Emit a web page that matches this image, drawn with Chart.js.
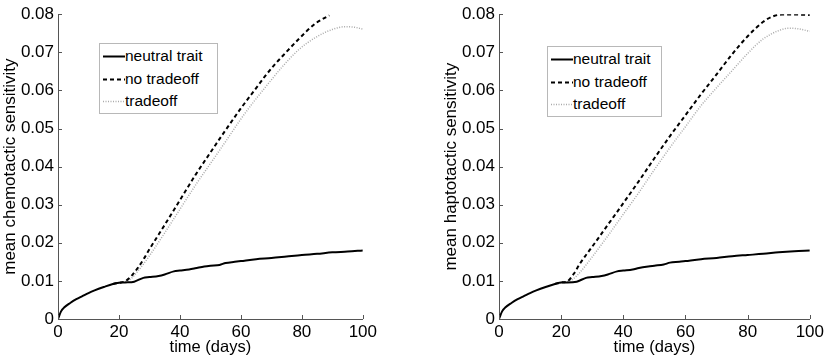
<!DOCTYPE html>
<html>
<head>
<meta charset="utf-8">
<script src="https://cdn.jsdelivr.net/npm/chart.js@4.4.0/dist/chart.umd.min.js"></script>
<style>
  body { margin: 0; background: #fff; width: 827px; height: 361px; position: relative; overflow: hidden; font-family: "Liberation Sans", Arial, sans-serif; }
  .panel { position: absolute; top: 0; height: 361px; }
  .legend { position: absolute; border: 1px solid #b8b8b8; background: #fff; font-size: 15.5px; color: #000; }
  .legend div { position: relative; height: 22.5px; line-height: 22.5px; padding-left: 25px; }
  .legend svg { position: absolute; left: 3px; top: 10px; }
</style>
</head>
<body>
<div class="panel" style="left:0;width:380px"><canvas id="chemoChart"></canvas></div>
<div class="panel" style="left:441px;width:386px"><canvas id="haptoChart"></canvas></div>

<div class="legend" style="left:99px;top:43px;width:117px;height:68px;padding-top:1px">
  <div><svg width="22" height="3"><line x1="0" y1="1.5" x2="22" y2="1.5" stroke="#000" stroke-width="2"/></svg>neutral trait</div>
  <div><svg width="22" height="3"><line x1="0" y1="1.5" x2="22" y2="1.5" stroke="#000" stroke-width="2" stroke-dasharray="4,3"/></svg>no tradeoff</div>
  <div><svg width="22" height="3"><line x1="0" y1="1.5" x2="22" y2="1.5" stroke="#aaa" stroke-width="1.5" stroke-dasharray="1,1.5"/></svg>tradeoff</div>
</div>
<div class="legend" style="left:547px;top:46px;width:113px;height:68px;padding-top:1px">
  <div><svg width="22" height="3"><line x1="0" y1="1.5" x2="22" y2="1.5" stroke="#000" stroke-width="2"/></svg>neutral trait</div>
  <div><svg width="22" height="3"><line x1="0" y1="1.5" x2="22" y2="1.5" stroke="#000" stroke-width="2" stroke-dasharray="4,3"/></svg>no tradeoff</div>
  <div><svg width="22" height="3"><line x1="0" y1="1.5" x2="22" y2="1.5" stroke="#aaa" stroke-width="1.5" stroke-dasharray="1,1.5"/></svg>tradeoff</div>
</div>

<script>
// data (time in days, mean sensitivity)
const neutralDays = [0, 1, 2, 4, 6, 8, 10, 12, 15, 18, 20, 22, 25, 28, 30, 33, 35, 38, 40, 43, 45, 48, 50, 53, 55, 58, 60, 65, 70, 75, 80, 85, 90, 95, 100];
const chemoNeutral = [0, 0.002, 0.003, 0.0042, 0.0052, 0.006, 0.0068, 0.0075, 0.0084, 0.0092, 0.0095, 0.0096, 0.0098, 0.0108, 0.011, 0.0113, 0.0117, 0.0125, 0.0127, 0.013, 0.0133, 0.0138, 0.014, 0.0142, 0.0147, 0.015, 0.0152, 0.0157, 0.016, 0.0164, 0.0168, 0.0171, 0.0175, 0.0177, 0.018];
const haptoNeutral = [0, 0.002, 0.003, 0.0042, 0.0052, 0.006, 0.0068, 0.0075, 0.0084, 0.0092, 0.0096, 0.0096, 0.0098, 0.0108, 0.011, 0.0113, 0.0117, 0.0125, 0.0127, 0.013, 0.0134, 0.0138, 0.014, 0.0143, 0.0148, 0.015, 0.0152, 0.0157, 0.016, 0.0165, 0.0168, 0.0171, 0.0175, 0.0178, 0.018];

const chemoNoTradeoffDays = [18, 20, 22, 24, 26, 28, 30, 35, 40, 45, 50, 55, 60, 65, 68, 71, 74, 79, 84.5, 89];
const chemoNoTradeoff = [0.0092, 0.0095, 0.0099, 0.0112, 0.0132, 0.0156, 0.0183, 0.0247, 0.0312, 0.0377, 0.0437, 0.0496, 0.0553, 0.0606, 0.0638, 0.0667, 0.0693, 0.0735, 0.0776, 0.0797];
const chemoTradeoffDays = [18, 20, 22, 24, 26, 28, 30, 35, 40, 45, 50, 55, 60, 64, 68.4, 73.8, 79, 84.5, 90, 94, 97, 100];
const chemoTradeoff = [0.0092, 0.0095, 0.0098, 0.0106, 0.0124, 0.0144, 0.0166, 0.0226, 0.0288, 0.035, 0.0408, 0.0466, 0.0525, 0.0568, 0.0612, 0.0664, 0.0707, 0.0739, 0.076, 0.0767, 0.0766, 0.0761];

const haptoNoTradeoffDays = [18, 20, 22, 24, 26, 28, 30, 35, 40, 45, 50, 55, 60, 65, 70, 75, 80, 85, 88, 91, 95, 100];
const haptoNoTradeoff = [0.0092, 0.0096, 0.0099, 0.0118, 0.0145, 0.0168, 0.019, 0.0247, 0.0304, 0.0362, 0.0422, 0.048, 0.0535, 0.059, 0.0642, 0.0695, 0.0742, 0.078, 0.0794, 0.0799, 0.0799, 0.0798];
const haptoTradeoffDays = [18, 20, 22, 24, 26, 28, 30, 35, 40, 45, 50, 55, 60, 65, 70, 75, 80, 85, 90, 93, 96, 100];
const haptoTradeoff = [0.0092, 0.0096, 0.0098, 0.0106, 0.0122, 0.0142, 0.0163, 0.0218, 0.0275, 0.0332, 0.0392, 0.045, 0.0505, 0.056, 0.0607, 0.0652, 0.0697, 0.0735, 0.0757, 0.0763, 0.0762, 0.0755];

const xTicks = [0, 20, 40, 60, 80, 100];
const yTicks = [0, 0.01, 0.02, 0.03, 0.04, 0.05, 0.06, 0.07, 0.08];

const font = "'Liberation Sans', Arial, sans-serif";

function pts(xs, ys) {
  return xs.map((x, i) => ({ x: x, y: ys[i] }));
}

// MATLAB style inward ticks
const inwardTicks = {
  id: 'inwardTicks',
  afterDatasetsDraw(chart) {
    const ctx = chart.ctx;
    const area = chart.chartArea;
    const xs = chart.scales.x, ys = chart.scales.y;
    ctx.save();
    ctx.strokeStyle = '#555';
    ctx.lineWidth = 1;
    ctx.beginPath();
    xTicks.forEach(v => {
      const px = Math.round(xs.getPixelForValue(v)) + 0.5;
      ctx.moveTo(px, area.bottom);
      ctx.lineTo(px, area.bottom - 4);
    });
    yTicks.forEach(v => {
      const py = Math.round(ys.getPixelForValue(v)) + 0.5;
      ctx.moveTo(area.left, py);
      ctx.lineTo(area.left + 4, py);
    });
    ctx.stroke();
    ctx.restore();
  }
};

function makeChart(id, yTitle, neutral, noT, noTDays, tr, trDays, padTop, padRight) {
  const ctx = document.getElementById(id).getContext('2d');
  return new Chart(ctx, {
    type: 'line',
    data: {
      datasets: [
        { label: 'neutral trait', data: pts(neutralDays, neutral), borderColor: '#000', borderWidth: 2, pointRadius: 0, cubicInterpolationMode: 'monotone' },
        { label: 'no tradeoff', data: pts(noTDays, noT), borderColor: '#000', borderWidth: 2, borderDash: [4, 3], pointRadius: 0, cubicInterpolationMode: 'monotone' },
        { label: 'tradeoff', data: pts(trDays, tr), borderColor: '#aaa', borderWidth: 1.5, borderDash: [1, 1.5], pointRadius: 0, cubicInterpolationMode: 'monotone' }
      ]
    },
    options: {
      responsive: true,
      maintainAspectRatio: false,
      animation: false,
      layout: { padding: { top: padTop, right: padRight, left: 0, bottom: 0 } },
      plugins: { legend: { display: false }, tooltip: { enabled: false } },
      scales: {
        x: {
          type: 'linear', min: 0, max: 100,
          afterBuildTicks: s => { s.ticks = xTicks.map(v => ({ value: v })); },
          afterFit: s => { s.height = 42; },
          grid: { display: false, drawTicks: false },
          border: { display: true, color: '#555', width: 1 },
          ticks: { color: '#000', font: { family: font, size: 17 }, padding: 3, maxRotation: 0 },
          title: { display: true, text: 'time (days)', color: '#000', font: { family: font, size: 16.5 }, padding: { top: 0, bottom: 4 } }
        },
        y: {
          type: 'linear', min: 0, max: 0.08,
          afterBuildTicks: s => { s.ticks = yTicks.map(v => ({ value: v })); },
          afterFit: s => { s.width = 58; },
          grid: { display: false, drawTicks: false },
          border: { display: true, color: '#555', width: 1 },
          ticks: { color: '#000', font: { family: font, size: 17 }, padding: 4, callback: v => String(+v.toFixed(2)) },
          title: { display: true, text: yTitle, color: '#000', font: { family: font, size: 17 }, padding: { top: 0, bottom: 0 } }
        }
      }
    },
    plugins: [inwardTicks]
  });
}

makeChart('chemoChart', 'mean chemotactic sensitivity', chemoNeutral, chemoNoTradeoff, chemoNoTradeoffDays, chemoTradeoff, chemoTradeoffDays, 8, 12);
makeChart('haptoChart', 'mean haptotactic sensitivity', haptoNeutral, haptoNoTradeoff, haptoNoTradeoffDays, haptoTradeoff, haptoTradeoffDays, 9, 17);
</script>
</body>
</html>
